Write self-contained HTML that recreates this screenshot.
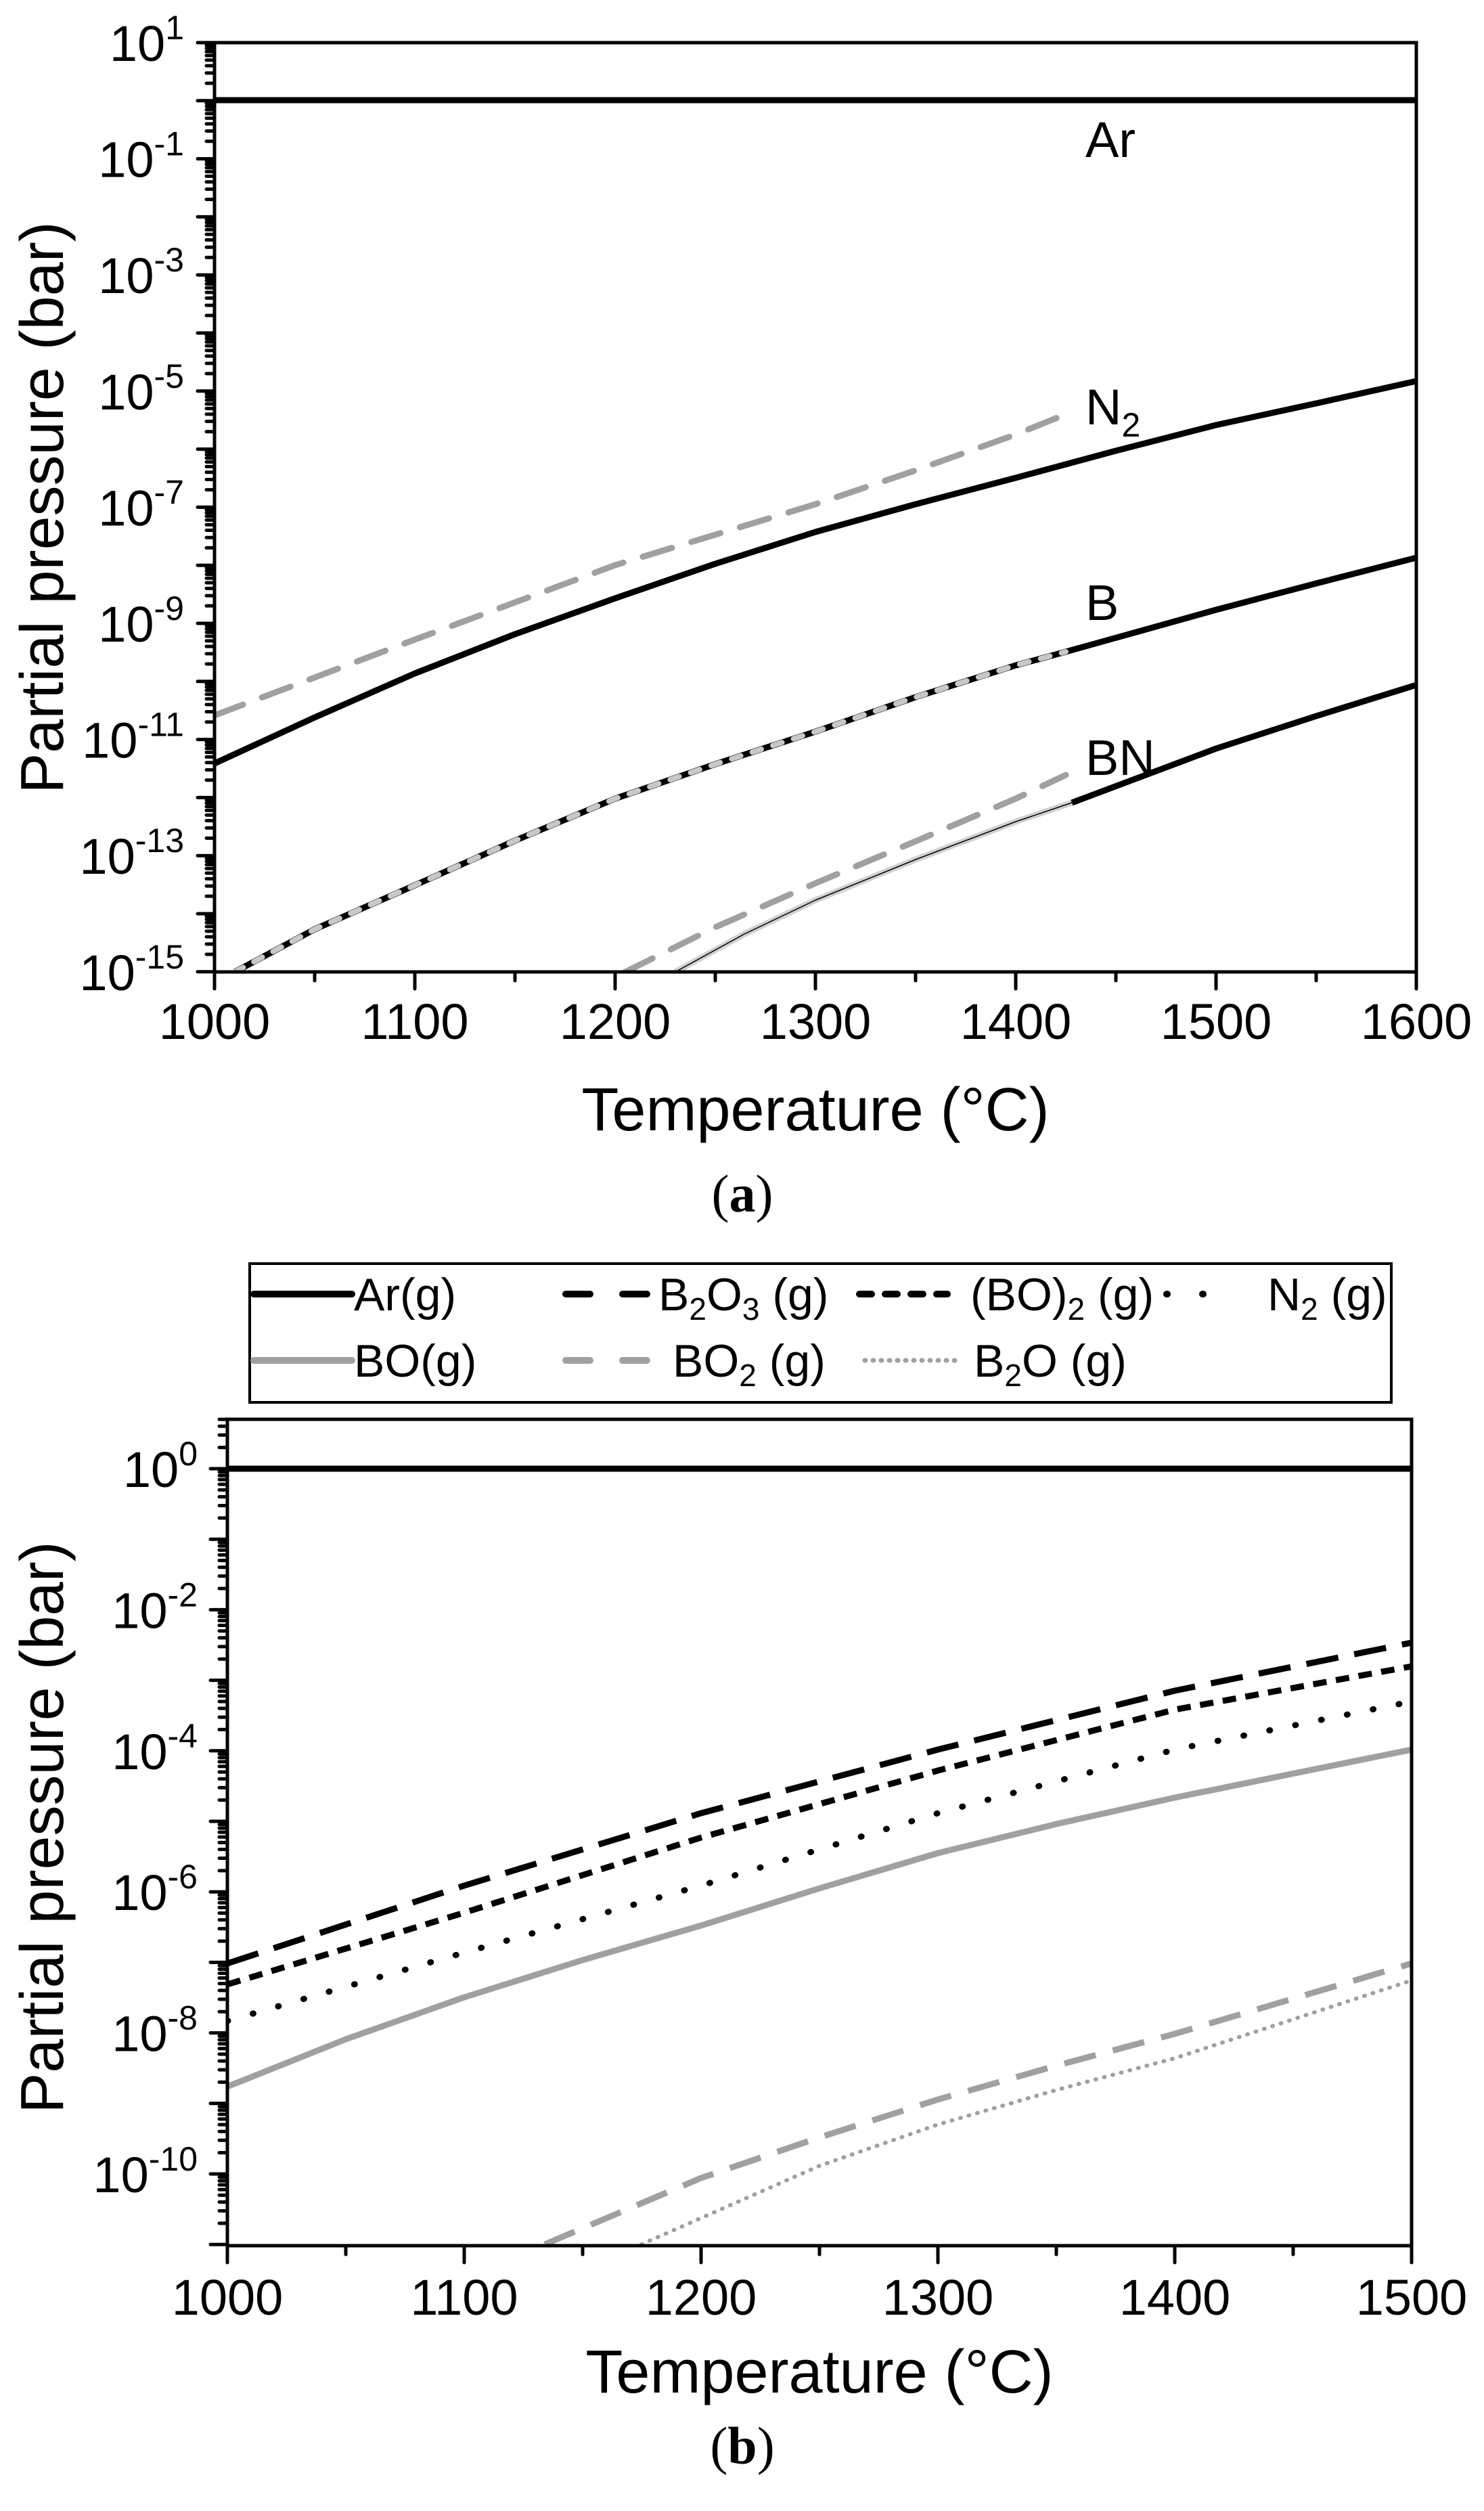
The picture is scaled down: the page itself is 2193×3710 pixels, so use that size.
<!DOCTYPE html>
<html><head><meta charset="utf-8">
<style>
html,body{margin:0;padding:0;background:#fff;}
svg{display:block;}
text{font-family:"Liberation Sans",Arial,sans-serif;fill:#000;}
</style></head>
<body>
<svg id="s" xmlns="http://www.w3.org/2000/svg" width="2193" height="3710" viewBox="0 0 2193 3710">
<defs>
<clipPath id="ca"><rect x="317" y="63" width="1776" height="1373"/></clipPath>
<clipPath id="cb"><rect x="336" y="2097" width="1750" height="1221"/></clipPath>
</defs>
<rect width="2193" height="3710" fill="#fff"/>

<!-- ===== Panel A ===== -->
<g clip-path="url(#ca)" fill="none" stroke-linejoin="round">
<line x1="317" y1="148" x2="2093" y2="148" stroke="#000" stroke-width="9"/>
<path d="M317,1057 L613,945 L909,835 L1205,745 L1353,695 L1501,642 L1575,612" stroke="#a0a0a0" stroke-width="9" stroke-dasharray="45,30" stroke-linecap="round"/>
<path d="M317,1128 L465,1060 L613,995 L761,937 L909,884 L1057,833 L1205,786 L1353,745 L1501,706 L1649,666 L1797,628 L1945,596 L2093,563" stroke="#000" stroke-width="9"/>
<path d="M347,1436 L465,1373 L613,1308 L761,1242 L909,1180 L1057,1129 L1205,1081 L1353,1030 L1501,983 L1575,963 L1797,901 L1945,862 L2093,824" stroke="#000" stroke-width="9"/>
<path d="M347,1436 L465,1373 L613,1308 L761,1242 L909,1180 L1057,1129 L1205,1081 L1353,1030 L1501,983 L1575,963" stroke="#c8c8c8" stroke-width="8" stroke-dasharray="14,18" stroke-linecap="round"/>
<path d="M924,1436 L1057,1370 L1205,1305 L1353,1243 L1501,1180 L1575,1145" stroke="#a0a0a0" stroke-width="9" stroke-dasharray="45,30" stroke-linecap="round"/>
<path d="M998,1436 L1100,1380 L1205,1330 L1353,1270 L1501,1214 L1584,1186" stroke="#d0d0d0" stroke-width="9"/>
<path d="M998,1436 L1100,1380 L1205,1330 L1353,1270 L1501,1214 L1584,1186" stroke="#000" stroke-width="1.5"/>
<path d="M1584,1186 L1797,1106 L1945,1058 L2093,1012" stroke="#000" stroke-width="9"/>
</g>
<rect x="317" y="63" width="1776" height="1373" fill="none" stroke="#000" stroke-width="5"/>
<g id="ta" stroke="#000" stroke-width="5" stroke-linecap="round"></g>

<text x="1604" y="232" font-size="74">Ar</text>
<text x="1604" y="627" font-size="74">N<tspan font-size="50" dy="18">2</tspan></text>
<text x="1604" y="916" font-size="74">B</text>
<text x="1604" y="1145" font-size="74">BN</text>

<g font-size="74" text-anchor="middle">
<text x="317" y="1535">1000</text><text x="613" y="1535">1100</text><text x="909" y="1535">1200</text>
<text x="1205" y="1535">1300</text><text x="1501" y="1535">1400</text><text x="1797" y="1535">1500</text><text x="2093" y="1535">1600</text>
</g>
<g id="la" font-size="74" text-anchor="end"></g>
<text x="1205" y="1670" font-size="90" text-anchor="middle">Temperature (°C)</text>
<text transform="translate(93,750) rotate(-90)" font-size="90" text-anchor="middle">Partial pressure (bar)</text>
<text x="1097" y="1790" font-size="78" text-anchor="middle" style="font-family:'Liberation Serif',serif">(<tspan font-weight="bold">a</tspan>)</text>

<!-- ===== Legend ===== -->
<rect x="369" y="1867" width="1687" height="205" fill="none" stroke="#000" stroke-width="4"/>
<g stroke-width="10" stroke-linecap="round" fill="none">
<line x1="375" y1="1912" x2="520" y2="1912" stroke="#000"/>
<line x1="836" y1="1912" x2="956" y2="1912" stroke="#000" stroke-dasharray="36,48"/>
<line x1="1270" y1="1912" x2="1400" y2="1912" stroke="#000" stroke-dasharray="18,20"/>
<line x1="1724" y1="1912" x2="1830" y2="1912" stroke="#000" stroke-dasharray="1,52"/>
<line x1="375" y1="2010" x2="520" y2="2010" stroke="#a0a0a0"/>
<line x1="836" y1="2010" x2="956" y2="2010" stroke="#a0a0a0" stroke-dasharray="36,48"/>
<line x1="1278" y1="2010" x2="1415" y2="2010" stroke="#a0a0a0" stroke-width="7" stroke-dasharray="1,11"/>
</g>
<g font-size="68">
<text x="523" y="1936">Ar(g)</text>
<text x="973" y="1936">B<tspan font-size="46" dy="14">2</tspan><tspan dy="-14">O</tspan><tspan font-size="46" dy="14">3</tspan><tspan dy="-14"> (g)</tspan></text>
<text x="1434" y="1936">(BO)<tspan font-size="46" dy="14">2</tspan><tspan dy="-14"> (g)</tspan></text>
<text x="1873" y="1936">N<tspan font-size="46" dy="14">2</tspan><tspan dy="-14"> (g)</tspan></text>
<text x="523" y="2034">BO(g)</text>
<text x="994" y="2034">BO<tspan font-size="46" dy="14">2</tspan><tspan dy="-14"> (g)</tspan></text>
<text x="1439" y="2034">B<tspan font-size="46" dy="14">2</tspan><tspan dy="-14">O (g)</tspan></text>
</g>

<!-- ===== Panel B ===== -->
<g clip-path="url(#cb)" fill="none" stroke-linejoin="round" stroke-width="9">
<line x1="336" y1="2170" x2="2086" y2="2170" stroke="#000"/>
<path d="M336,2901 L686,2786 L1036,2679 L1386,2585 L1736,2498 L2086,2427" stroke="#000" stroke-dasharray="48,24"/>
<path d="M336,2932 L686,2826 L1036,2715 L1386,2616 L1736,2526 L2086,2462" stroke="#000" stroke-dasharray="20,14"/>
<path d="M336,2986 L686,2885 L1036,2786 L1386,2679 L1736,2585 L2086,2514" stroke="#000" stroke-dasharray="1,38" stroke-linecap="round"/>
<path d="M336,3083 L511,3013 L686,2951 L861,2896 L1036,2845 L1211,2790 L1386,2738 L1561,2695 L1736,2656 L2086,2585" stroke="#a0a0a0"/>
<path d="M805,3316 L1036,3218 L1211,3158 L1386,3102 L1561,3052 L1736,3005 L2086,2901" stroke="#a0a0a0" stroke-dasharray="48,26"/>
<path d="M948,3316 L1211,3200 L1386,3139 L1561,3088 L1736,3041 L2086,2926" stroke="#a0a0a0" stroke-width="6" stroke-dasharray="1,12" stroke-linecap="round"/>
</g>
<rect x="336" y="2097" width="1750" height="1221" fill="none" stroke="#000" stroke-width="5"/>
<g id="tb" stroke="#000" stroke-width="5" stroke-linecap="round"></g>
<g font-size="74" text-anchor="middle">
<text x="336" y="3420">1000</text><text x="686" y="3420">1100</text><text x="1036" y="3420">1200</text>
<text x="1386" y="3420">1300</text><text x="1736" y="3420">1400</text><text x="2086" y="3420">1500</text>
</g>
<g id="lb" font-size="74" text-anchor="end"></g>
<text x="1211" y="3535" font-size="90" text-anchor="middle">Temperature (°C)</text>
<text transform="translate(93,2700) rotate(-90)" font-size="90" text-anchor="middle">Partial pressure (bar)</text>
<text x="1097" y="3640" font-size="78" text-anchor="middle" style="font-family:'Liberation Serif',serif">(<tspan font-weight="bold">b</tspan>)</text>
</svg>
<script>
(function(){
var NS="http://www.w3.org/2000/svg";
function ln(g,x1,y1,x2,y2){var l=document.createElementNS(NS,"line");l.setAttribute("x1",x1);l.setAttribute("y1",y1);l.setAttribute("x2",x2);l.setAttribute("y2",y2);g.appendChild(l);}
function lab(g,x,y,exp){var t=document.createElementNS(NS,"text");t.setAttribute("x",x);t.setAttribute("y",y);
 var a=document.createElementNS(NS,"tspan");a.textContent="10";t.appendChild(a);
 var b=document.createElementNS(NS,"tspan");b.setAttribute("font-size","50");b.setAttribute("dy","-32");b.textContent=exp;t.appendChild(b);g.appendChild(t);}
var ta=document.getElementById("ta"),la=document.getElementById("la");
var L=317,B=1436,D=85.8;
for(var e=1;e>=-15;e--){var y=63+(1-e)*D;ln(ta,L-25,y,L,y);
 if(e<1){for(var m=2;m<=9;m++){var yy=y-Math.log10(m)*D;ln(ta,L-12,yy,L,yy);}}
 if(Math.abs(e)%2==1){lab(la,272,y+27,String(e));}}
for(var t=1000;t<=1600;t+=50){var x=317+(t-1000)*2.96;ln(ta,x,B,x,B+(t%100==0?25:13));}
var tb=document.getElementById("tb"),lb=document.getElementById("lb");
L=336;B=3318;D=104.2;
for(var e=0;e>=-11;e--){var y=2170-e*D;ln(tb,L-25,y,L,y);
 for(var m=2;m<=9;m++){var yy=y-Math.log10(m)*D;if(yy>=2097&&yy<=3318)ln(tb,L-12,yy,L,yy);}
 if(e%2==0&&e>=-10){lab(lb,292,y+27,String(e));}}
for(var t=1000;t<=1500;t+=50){var x=336+(t-1000)*3.5;ln(tb,x,B,x,B+(t%100==0?25:13));}
})();
</script>
</body></html>
